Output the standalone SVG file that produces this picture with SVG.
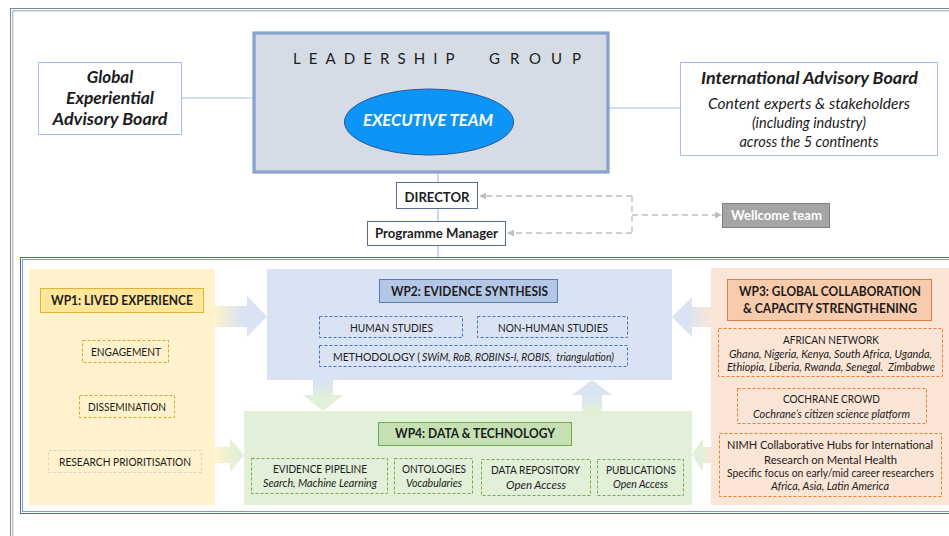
<svg xmlns="http://www.w3.org/2000/svg" width="949" height="536" viewBox="0 0 949 536">
<style>
text{font-family:Lato,"Open Sans","Liberation Sans",sans-serif;fill:#1c1c1c}
.b{font-weight:bold}
.i{font-style:italic}
.c{text-anchor:middle}
.lbl{font-size:12px}
.sub{font-size:11px;font-style:italic}
.hdr{font-size:13px;font-weight:bold}
.conn{stroke:#a9bde6;stroke-width:1.2;fill:none}
.dash{stroke:#bfbfbf;stroke-width:1.3;fill:none;stroke-dasharray:6 4}
.dy{fill:none;stroke:#d6a531;stroke-width:1;stroke-dasharray:3 2}
.db{fill:none;stroke:#4472c4;stroke-width:1;stroke-dasharray:3 2}
.dg{fill:none;stroke:#70ad47;stroke-width:1;stroke-dasharray:3 2}
.do{fill:none;stroke:#ed7d31;stroke-width:1;stroke-dasharray:3 2}
</style>
<defs>
<marker id="ah" viewBox="0 0 8 8" refX="7" refY="4" markerWidth="7" markerHeight="7" markerUnits="userSpaceOnUse" orient="auto">
<path d="M0,0 L8,4 L0,8 Z" fill="#bfbfbf"/>
</marker>
<linearGradient id="g1" gradientUnits="userSpaceOnUse" x1="215" y1="0" x2="242" y2="0"><stop offset="0" stop-color="#fff2cc"/><stop offset="1" stop-color="#dae3f3"/></linearGradient>
<linearGradient id="g2" gradientUnits="userSpaceOnUse" x1="0" y1="382" x2="0" y2="398"><stop offset="0" stop-color="#dae3f3"/><stop offset="1" stop-color="#e2f0d9"/></linearGradient>
<linearGradient id="g3" gradientUnits="userSpaceOnUse" x1="0" y1="411" x2="0" y2="393"><stop offset="0" stop-color="#e2f0d9"/><stop offset="1" stop-color="#dae3f3"/></linearGradient>
<linearGradient id="g4" gradientUnits="userSpaceOnUse" x1="711" y1="0" x2="688" y2="0"><stop offset="0" stop-color="#fbe5d6"/><stop offset="1" stop-color="#dae3f3"/></linearGradient>
<linearGradient id="g5" gradientUnits="userSpaceOnUse" x1="711" y1="0" x2="700" y2="0"><stop offset="0" stop-color="#fbe5d6"/><stop offset="1" stop-color="#e2f0d9"/></linearGradient>
<linearGradient id="g6" gradientUnits="userSpaceOnUse" x1="215" y1="0" x2="238" y2="0"><stop offset="0" stop-color="#fff2cc"/><stop offset="1" stop-color="#e2f0d9"/></linearGradient>
</defs>
<rect width="949" height="536" fill="#ffffff"/>
<g id="frames">
<rect x="10.5" y="8.5" width="960" height="560" fill="none" stroke="#7d8896" stroke-width="1"/>
<rect x="12.8" y="10.8" width="960" height="560" fill="none" stroke="#9aa4b0" stroke-width="1"/>
<rect x="20.5" y="257.5" width="960" height="256" fill="none" stroke="#4a6db5" stroke-width="1"/>
<rect x="22.5" y="259.5" width="960" height="252" fill="none" stroke="#7f9ad0" stroke-width="1"/>
</g>
<g id="connectors">
<line class="conn" x1="182" y1="98" x2="254" y2="98"/>
<line class="conn" x1="608" y1="108" x2="680" y2="108"/>
<line class="conn" x1="438" y1="172" x2="438" y2="182"/>
<line class="conn" x1="438" y1="209" x2="438" y2="221"/>
<line class="conn" x1="438" y1="246" x2="438" y2="257"/>
<path class="dash" d="M632,196 H480" marker-end="url(#ah)"/>
<path class="dash" d="M632,233 H508" marker-end="url(#ah)"/>
<path class="dash" d="M632,196 V233"/>
<path class="dash" d="M632,215 H721" marker-end="url(#ah)"/>
</g>
<g id="leadership">
<rect x="254" y="33" width="354" height="139" fill="#d6dce5" stroke="#6d89c0" stroke-width="3"/>
<rect x="254" y="33" width="354" height="139" fill="none" stroke="#b9c8e4" stroke-width="0.8"/>
<text x="293" y="64" font-size="15" letter-spacing="8.4" textLength="170" lengthAdjust="spacing">LEADERSHIP</text>
<text x="489" y="64" font-size="15" textLength="92" lengthAdjust="spacing">GROUP</text>
</g>
<g id="executive-team">
<ellipse cx="429" cy="122" rx="84.5" ry="33" fill="#0c94f7" stroke="#2f5597" stroke-width="1"/>
<text class="c b i" x="428" y="126" font-size="17" style="fill:#ffffff" textLength="130" lengthAdjust="spacingAndGlyphs">EXECUTIVE TEAM</text>
</g>
<g id="global-experiential-advisory-board">
<rect x="38.5" y="62.5" width="143" height="72" fill="#ffffff" stroke="#a9bde6" stroke-width="1"/>
<text class="c b i" x="110" y="83" font-size="17">Global</text>
<text class="c b i" x="110" y="104" font-size="17" textLength="88" lengthAdjust="spacingAndGlyphs">Experiential</text>
<text class="c b i" x="110" y="125" font-size="17" textLength="115" lengthAdjust="spacingAndGlyphs">Advisory Board</text>
</g>
<g id="international-advisory-board">
<rect x="680.5" y="62.5" width="257" height="93" fill="#ffffff" stroke="#a9bde6" stroke-width="1"/>
<text class="c b i" x="809.5" y="84" font-size="17" textLength="217" lengthAdjust="spacingAndGlyphs">International Advisory Board</text>
<text class="c i" x="809" y="109" font-size="14.5" textLength="202" lengthAdjust="spacingAndGlyphs">Content experts &amp; stakeholders</text>
<text class="c i" x="809" y="128" font-size="14.5">(including industry)</text>
<text class="c i" x="809" y="147" font-size="14.5">across the 5 continents</text>
</g>
<g id="director">
<rect x="396.5" y="182.5" width="81" height="26" fill="#ffffff" stroke="#5a6f8f" stroke-width="1"/>
<text class="c b" x="437" y="202" font-size="14" textLength="65" lengthAdjust="spacingAndGlyphs">DIRECTOR</text>
</g>
<g id="programme-manager">
<rect x="367.5" y="221.5" width="138" height="24" fill="#ffffff" stroke="#5a6f8f" stroke-width="1"/>
<text class="c b" x="436.5" y="238" font-size="13" textLength="123" lengthAdjust="spacingAndGlyphs">Programme Manager</text>
</g>
<g id="wellcome-team">
<rect x="722.5" y="203.5" width="107" height="24" fill="#a5a5a5" stroke="#7f7f7f" stroke-width="1"/>
<text class="c b" x="776.5" y="220" font-size="13" style="fill:#ffffff" textLength="91" lengthAdjust="spacingAndGlyphs">Wellcome team</text>
</g>
<g id="wp1">
<rect x="29" y="269" width="186" height="236" fill="#fff2cc"/>
<rect x="40.5" y="288.5" width="163" height="24" fill="#ffe699" stroke="#e0b43c" stroke-width="1"/>
<text class="c hdr" x="122" y="305" textLength="142" lengthAdjust="spacingAndGlyphs">WP1: LIVED EXPERIENCE</text>
<rect class="dy" x="82.5" y="340.5" width="86" height="22"/>
<text class="c lbl" x="126" y="356" textLength="70" lengthAdjust="spacingAndGlyphs">ENGAGEMENT</text>
<rect class="dy" x="79.5" y="395.5" width="95" height="22"/>
<text class="c lbl" x="127" y="411" textLength="78" lengthAdjust="spacingAndGlyphs">DISSEMINATION</text>
<rect x="48.5" y="450.5" width="153" height="22" fill="none" stroke="#d8d2cc" stroke-width="1" stroke-dasharray="3 2"/>
<text class="c lbl" x="125" y="466" textLength="132" lengthAdjust="spacingAndGlyphs">RESEARCH PRIORITISATION</text>
</g>
<g id="wp2">
<rect x="267" y="269" width="405" height="111" fill="#dae3f3"/>
<rect x="379.5" y="279.5" width="178" height="23" fill="#b4c7e7" stroke="#5a79b7" stroke-width="1"/>
<text class="c hdr" x="469.5" y="296" textLength="157" lengthAdjust="spacingAndGlyphs">WP2: EVIDENCE SYNTHESIS</text>
<rect class="db" x="319.5" y="316.5" width="143" height="21"/>
<text class="c lbl" x="391.5" y="332" textLength="83" lengthAdjust="spacingAndGlyphs">HUMAN STUDIES</text>
<rect class="db" x="477.5" y="316.5" width="150" height="21"/>
<text class="c lbl" x="553" y="332" textLength="110" lengthAdjust="spacingAndGlyphs">NON-HUMAN STUDIES</text>
<rect class="db" x="319.5" y="345.5" width="308" height="21"/>
<text class="lbl" x="333" y="361" textLength="87" lengthAdjust="spacingAndGlyphs">METHODOLOGY (</text>
<text class="sub" x="422" y="361" textLength="192" lengthAdjust="spacingAndGlyphs">SWiM, RoB, ROBINS-I, ROBIS,&#160; triangulation)</text>
</g>
<g id="wp4">
<rect x="244" y="411" width="448" height="94" fill="#e2f0d9"/>
<rect x="378.5" y="422.5" width="193" height="23" fill="#c5e0b4" stroke="#70ad47" stroke-width="1"/>
<text class="c hdr" x="475" y="438" textLength="160" lengthAdjust="spacingAndGlyphs">WP4: DATA &amp; TECHNOLOGY</text>
<rect class="dg" x="251.5" y="458.5" width="136" height="35"/>
<text class="c lbl" x="320" y="473" textLength="94" lengthAdjust="spacingAndGlyphs">EVIDENCE PIPELINE</text>
<text class="c sub" x="320" y="487" textLength="114" lengthAdjust="spacingAndGlyphs">Search, Machine Learning</text>
<rect class="dg" x="394.5" y="458.5" width="78" height="35"/>
<text class="c lbl" x="434" y="473" textLength="64" lengthAdjust="spacingAndGlyphs">ONTOLOGIES</text>
<text class="c sub" x="434" y="487" textLength="56" lengthAdjust="spacingAndGlyphs">Vocabularies</text>
<rect class="dg" x="481.5" y="459.5" width="109" height="36"/>
<text class="c lbl" x="535.5" y="474" textLength="89" lengthAdjust="spacingAndGlyphs">DATA REPOSITORY</text>
<text class="c sub" x="536" y="489" textLength="60" lengthAdjust="spacingAndGlyphs">Open Access</text>
<rect class="dg" x="597.5" y="459.5" width="86" height="36"/>
<text class="c lbl" x="641" y="474" textLength="70" lengthAdjust="spacingAndGlyphs">PUBLICATIONS</text>
<text class="c sub" x="640.5" y="488" textLength="55" lengthAdjust="spacingAndGlyphs">Open Access</text>
</g>
<g id="wp3">
<rect x="711" y="268" width="240" height="237" fill="#fbe5d6"/>
<rect x="727.5" y="279.5" width="204" height="41" fill="#f8cbad" stroke="#e07b45" stroke-width="1"/>
<text class="c hdr" x="830" y="296" textLength="182" lengthAdjust="spacingAndGlyphs">WP3: GLOBAL COLLABORATION</text>
<text class="c hdr" x="830" y="313" textLength="174" lengthAdjust="spacingAndGlyphs">&amp; CAPACITY STRENGTHENING</text>
<rect class="do" x="718.5" y="328.5" width="224" height="48"/>
<text class="c lbl" x="831" y="344" textLength="96" lengthAdjust="spacingAndGlyphs">AFRICAN NETWORK</text>
<text class="c sub" x="830.5" y="358" font-size="10.5" textLength="203" lengthAdjust="spacingAndGlyphs">Ghana, Nigeria, Kenya, South Africa, Uganda,</text>
<text class="c sub" x="831" y="371" font-size="10.5" textLength="208" lengthAdjust="spacingAndGlyphs">Ethiopia, Liberia, Rwanda, Senegal.&#160; Zimbabwe</text>
<rect class="do" x="737.5" y="388.5" width="189" height="35"/>
<text class="c lbl" x="831.5" y="403" textLength="97" lengthAdjust="spacingAndGlyphs">COCHRANE CROWD</text>
<text class="c sub" x="831.5" y="418" textLength="157" lengthAdjust="spacingAndGlyphs">Cochrane’s citizen science platform</text>
<rect class="do" x="719.5" y="433.5" width="222" height="63"/>
<text class="c" x="830" y="449" font-size="11.5" textLength="206" lengthAdjust="spacingAndGlyphs">NIMH Collaborative Hubs for International</text>
<text class="c lbl" x="830.5" y="464" textLength="133" lengthAdjust="spacingAndGlyphs">Research on Mental Health</text>
<text class="c" x="830.5" y="477" font-size="10.5" textLength="207" lengthAdjust="spacingAndGlyphs">Specific focus on early/mid career researchers</text>
<text class="c sub" x="830" y="490" textLength="118" lengthAdjust="spacingAndGlyphs">Africa, Asia, Latin America</text>
</g>
<g id="flow-arrows">
<path d="M215,306 H247 V296 L267,316.5 L247,337 V327 H215 Z" fill="url(#g1)"/>
<path d="M313,380 V395 H303 L323,411 L343,395 H333 V380 Z" fill="url(#g2)"/>
<path d="M582,411 V395 H572 L592,380 L612,395 H602 V411 Z" fill="url(#g3)"/>
<path d="M711,307 H692 V297 L672,317 L692,337 V327 H711 Z" fill="url(#g4)"/>
<path d="M711,447 H703 V438 L692,455 L703,472 V463 H711 Z" fill="url(#g5)"/>
<path d="M215,447 H230 V438 L244,455 L230,472 V463 H215 Z" fill="url(#g6)"/>
</g>
</svg>
